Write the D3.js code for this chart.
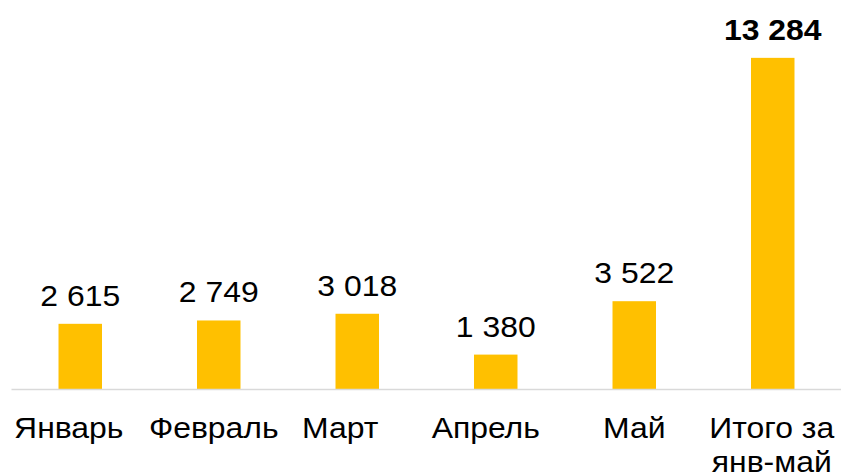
<!DOCTYPE html>
<html>
<head>
<meta charset="utf-8">
<script src="https://cdn.jsdelivr.net/npm/d3@7"></script>
<style>
  html, body { margin: 0; padding: 0; background: #fff; }
  svg { display: block; }
</style>
</head>
<body>
<svg id="chart"></svg>
<script>
// chart data
const categories = ['Январь', 'Февраль', 'Март', 'Апрель', 'Май', 'Итого за\nянв-май'];
const values = [2615, 2749, 3018, 1380, 3522, 13284];
const totalIndex = 5;

// category labels are not quite centred under their bars in the picture
const labelShift = [-11.5, -5, -17, -10, 0, -1];

const width = 841;
const height = 476;
const stretch = 1.1; // text in the picture is a bit wider than plain Arial

const svg = d3.select('#chart')
    .attr('width', width)
    .attr('height', height)
    .style('font-family', '"Liberation Sans", Arial, sans-serif');

const x = d3.scaleBand()
    .domain(d3.range(categories.length))
    .range([11, 842])
    .paddingInner(0.686)
    .paddingOuter(0.343);

const y = d3.scaleLinear()
    .domain([0, 14000])
    .range([389, 40]);

// bars
svg.append('g')
    .selectAll('rect')
    .data(values)
    .join('rect')
    .attr('x', (d, i) => x(i))
    .attr('y', d => y(d))
    .attr('width', x.bandwidth())
    .attr('height', d => y(0) - y(d))
    .attr('fill', '#FFC000');

// axis
const axis = svg.append('g')
    .attr('transform', `translate(0,${y(0)})`)
    .call(d3.axisBottom(x).tickSize(0).tickSizeOuter(0).tickFormat(''));

axis.select('.domain')
    .attr('stroke', '#D9D9D9')
    .attr('stroke-width', 1.5);

axis.selectAll('.tick text').remove();

axis.selectAll('.tick')
    .append('text')
    .attr('transform', i => `translate(${labelShift[i]},49) scale(${stretch},1)`)
    .attr('fill', '#000')
    .attr('font-size', 29)
    .attr('text-anchor', 'middle')
    .selectAll('tspan')
    .data(i => categories[i].split('\n'))
    .join('tspan')
    .attr('x', 0)
    .attr('y', (d, i) => i * 34)
    .text(d => d);

// value labels
const fmt = v => d3.format(',')(v).replace(/,/g, ' ');

svg.append('g')
    .selectAll('text')
    .data(values)
    .join('text')
    .attr('transform', (d, i) => `translate(${x(i) + x.bandwidth() / 2},${y(d) - 18}) scale(${stretch},1)`)
    .attr('text-anchor', 'middle')
    .attr('font-size', 29)
    .attr('font-weight', (d, i) => i === totalIndex ? 'bold' : 'normal')
    .attr('fill', '#000')
    .text(d => fmt(d));
</script>
</body>
</html>
